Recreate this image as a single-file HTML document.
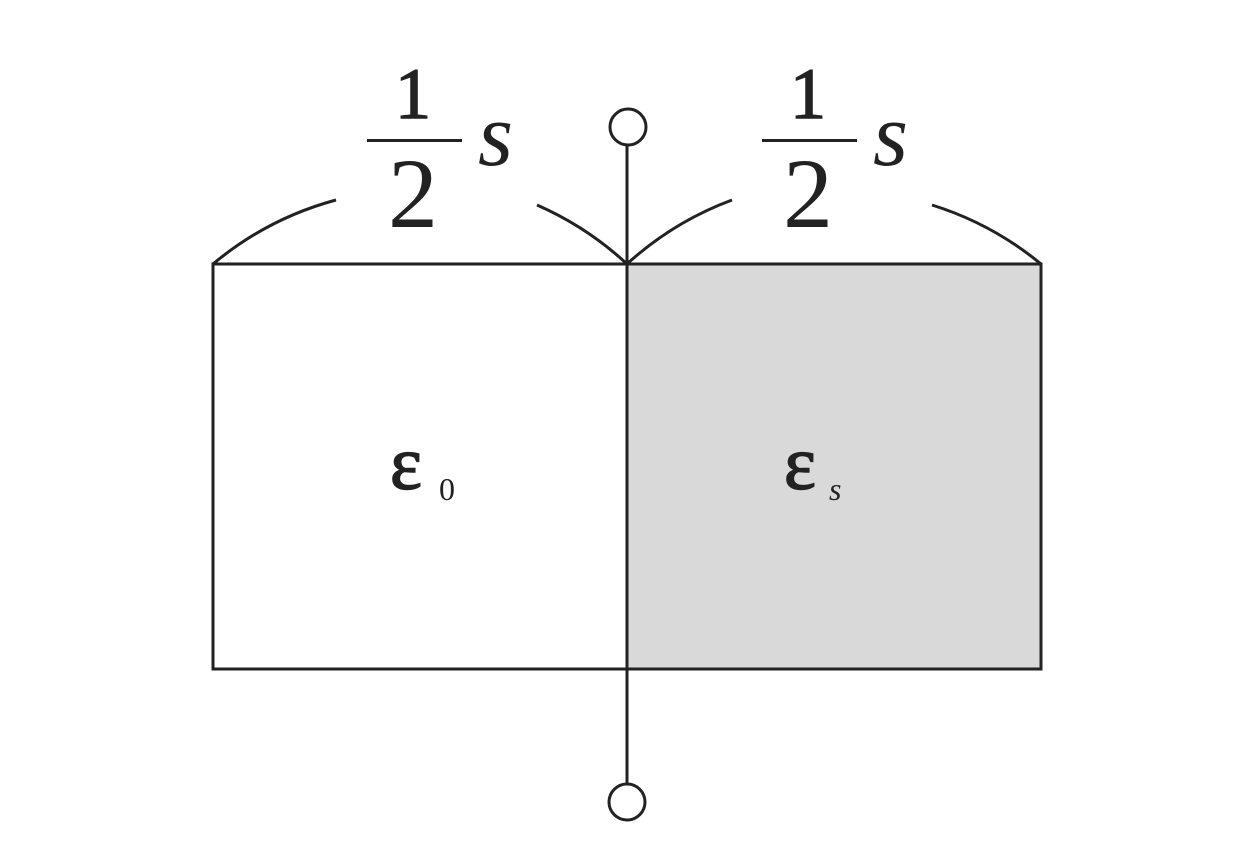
<!DOCTYPE html>
<html><head><meta charset="utf-8"><style>
html,body{margin:0;padding:0;background:#fff;}
svg{display:block;}
</style></head><body>
<svg width="1254" height="863" viewBox="0 0 1254 863" xmlns="http://www.w3.org/2000/svg">
<rect x="627" y="264" width="414" height="405" fill="#d9d9d9"/>
<rect x="213" y="264" width="828" height="405" fill="none" stroke="#222" stroke-width="3"/>
<line x1="627" y1="145" x2="627" y2="784" stroke="#222" stroke-width="3"/>
<circle cx="628" cy="127" r="18" fill="#fff" stroke="#222" stroke-width="3"/>
<circle cx="627" cy="802" r="18" fill="#fff" stroke="#222" stroke-width="3"/>
<g fill="none" stroke="#222" stroke-width="3">
<path d="M213,264 A323,323 0 0 1 336,200"/>
<path d="M537,205 A323,323 0 0 1 627,264"/>
<path d="M627,264 A323,323 0 0 1 732,200"/>
<path d="M932,205 A323,323 0 0 1 1041,264"/>
</g>
<g font-family="Liberation Serif, serif" fill="#222">
<text x="413" y="118" font-size="72" text-anchor="middle" stroke="#222" stroke-width="1.5">1</text>
<rect x="367" y="139" width="95" height="3"/>
<text x="413" y="227" font-size="100" text-anchor="middle">2</text>
<text x="478" y="165" font-size="90" font-style="italic">s</text>
<text x="808" y="118" font-size="72" text-anchor="middle" stroke="#222" stroke-width="1.5">1</text>
<rect x="762" y="139" width="95" height="3"/>
<text x="808" y="227" font-size="100" text-anchor="middle">2</text>
<text x="873" y="165" font-size="90" font-style="italic">s</text>
<text x="390" y="489" font-size="76" stroke="#222" stroke-width="1.5">ε</text>
<text x="439" y="500" font-size="32">0</text>
<text x="784" y="489" font-size="76" stroke="#222" stroke-width="1.5">ε</text>
<text x="829" y="500" font-size="32" font-style="italic">s</text>
</g>
</svg>
</body></html>
